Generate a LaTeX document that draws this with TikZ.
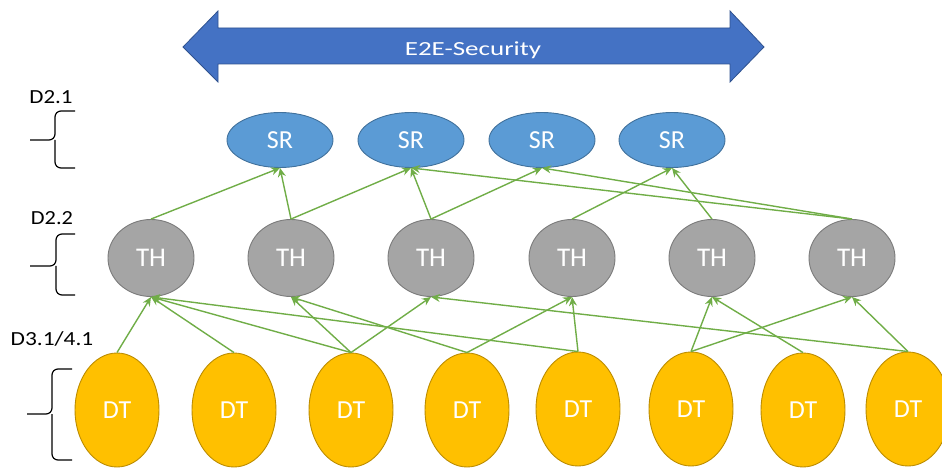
\documentclass[tikz,border=0pt]{standalone}
\usepackage{fontspec}
\usepackage{graphicx}
\setmainfont{Carlito}
\usetikzlibrary{arrows.meta,shapes.geometric}

\definecolor{bandfill}{HTML}{4472C4}
\definecolor{bandline}{HTML}{2F528F}
\definecolor{srfill}{HTML}{5B9BD5}
\definecolor{srline}{HTML}{41719C}
\definecolor{thfill}{HTML}{A5A5A5}
\definecolor{thline}{HTML}{7B7B7B}
\definecolor{dtfill}{HTML}{FFC000}
\definecolor{dtline}{HTML}{BC8C00}
\definecolor{linkgreen}{HTML}{70AD47}

\begin{document}
\begin{tikzpicture}[x=1pt,y=-1pt,
  srnode/.style={ellipse, draw=srline, fill=srfill, line width=0.9pt,
    minimum width=106pt, minimum height=55pt, inner sep=0pt,
    text=white, font=\fontsize{26}{30}\selectfont},
  thnode/.style={ellipse, draw=thline, fill=thfill, line width=0.9pt,
    minimum width=86pt, minimum height=77pt, inner sep=0pt,
    text=white, font=\fontsize{27}{31}\selectfont},
  dtnode/.style={ellipse, draw=dtline, fill=dtfill, line width=0.9pt,
    minimum width=84pt, minimum height=114pt, inner sep=0pt,
    text=white, font=\fontsize{26}{30}\selectfont},
  link/.style={draw=linkgreen, line width=1.4pt,
    -{Stealth[length=9pt,width=8pt]}},
  layerlbl/.style={anchor=base, inner sep=0pt, text=black,
    font=\fontsize{20}{24}\selectfont},
  brace/.style={draw=black, line width=1.2pt, rounded corners=6pt},
]
\useasboundingbox (0,0) rectangle (942,470);

% end-to-end double arrow
\draw[fill=bandfill, draw=bandline, line width=0.8pt]
  (183,47) -- (218,11) -- (218,28) -- (730,28) -- (730,11) -- (764,47)
  -- (730,82) -- (730,64) -- (218,64) -- (218,82) -- cycle;
\node[anchor=base, inner sep=0pt, text=white, font=\fontsize{20}{24}\selectfont]
  (e2e) at (473,56) {\scalebox{1.35}[1]{E2E-Security}};

% layer labels and braces
\node[layerlbl] (l21) at (51,104) {\scalebox{1.15}[1]{D2.1}};
\node[layerlbl] (l22) at (52,225) {\scalebox{1.12}[1]{D2.2}};
\node[layerlbl] (l31) at (52,345) {\scalebox{1.17}[1]{D3.1/4.1}};

\draw[brace] (75,111) -- (55,111) -- (55,140) -- (30,140);
\draw[brace] (75,168) -- (55,168) -- (55,140);
\draw[brace] (75,234) -- (56,234) -- (56,266) -- (30,266);
\draw[brace] (75,295) -- (56,295) -- (56,266);
\draw[brace] (72,369) -- (52,369) -- (52,414) -- (27,414);
\draw[brace] (72,460) -- (52,460) -- (52,414);

% security requirement nodes
\node[srnode] (sr1) at (280,140) {SR};
\node[srnode] (sr2) at (411,140) {SR};
\node[srnode] (sr3) at (542,140) {SR};
\node[srnode] (sr4) at (672,140) {SR};

% threat nodes
\node[thnode] (th1) at (151,258) {TH};
\node[thnode] (th2) at (291,258) {TH};
\node[thnode] (th3) at (431,258) {TH};
\node[thnode] (th4) at (572,258) {TH};
\node[thnode] (th5) at (712,258) {TH};
\node[thnode] (th6) at (852,258) {TH};

% device nodes
\node[dtnode] (dt1) at (117,410) {DT};
\node[dtnode] (dt2) at (234,410) {DT};
\node[dtnode] (dt3) at (351,410) {DT};
\node[dtnode] (dt4) at (467,410) {DT};
\node[dtnode] (dt5) at (578,409) {DT};
\node[dtnode] (dt6) at (691,409) {DT};
\node[dtnode] (dt7) at (803,410) {DT};
\node[dtnode] (dt8) at (908,409) {DT};

% threats to security requirements
\draw[link] (th1.north) -- (sr1.south);
\draw[link] (th2.north) -- (sr1.south);
\draw[link] (th2.north) -- (sr2.south);
\draw[link] (th3.north) -- (sr2.south);
\draw[link] (th3.north) -- (sr3.south);
\draw[link] (th4.north) -- (sr4.south);
\draw[link] (th5.north) -- (sr4.south);
\draw[link] (th6.north) -- (sr2.south);
\draw[link] (th6.north) -- (sr3.south);

% devices to threats
\draw[link] (dt1.north) -- (th1.south);
\draw[link] (dt2.north) -- (th1.south);
\draw[link] (dt3.north) -- (th1.south);
\draw[link] (dt5.north) -- (th1.south);
\draw[link] (dt3.north) -- (th2.south);
\draw[link] (dt4.north) -- (th2.south);
\draw[link] (dt3.north) -- (th3.south);
\draw[link] (dt8.north) -- (th3.south);
\draw[link] (dt4.north) -- (th4.south);
\draw[link] (dt5.north) -- (th4.south);
\draw[link] (dt6.north) -- (th5.south);
\draw[link] (dt7.north) -- (th5.south);
\draw[link] (dt6.north) -- (th6.south);
\draw[link] (dt8.north) -- (th6.south);
\end{tikzpicture}
\end{document}
